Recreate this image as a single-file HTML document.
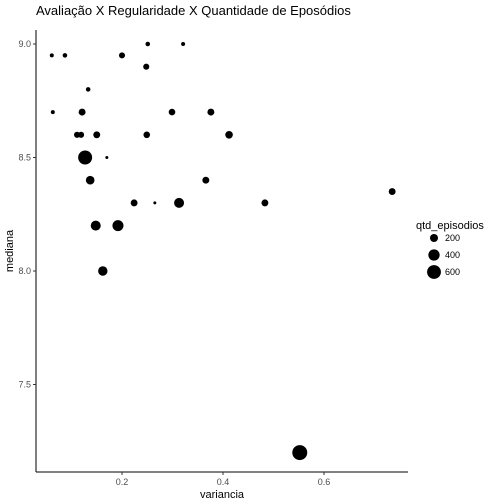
<!DOCTYPE html>
<html><head><meta charset="utf-8"><style>
body{margin:0;background:#fff}
svg{display:block;font-family:"Liberation Sans",sans-serif}
</style></head><body>
<svg id="c" width="504" height="504">
<text x="36" y="15" font-size="13" fill="#000">Avaliação X Regularidade X Quantidade de Eposódios</text>
<g id="pts"></g>
<line x1="36" y1="30" x2="36" y2="472" stroke="#000" stroke-width="1"/>
<line x1="36" y1="472" x2="408" y2="472" stroke="#000" stroke-width="1"/>
<g id="ax"></g>
<text x="222" y="498" font-size="11" text-anchor="middle">variancia</text>
<text transform="translate(13,251) rotate(-90)" font-size="11" text-anchor="middle">mediana</text>
<g>
<text x="416" y="229" font-size="11">qtd_episodios</text>
<g id="leg"></g>
</g>
</svg>
<script>
const variancia=[0.061,0.087,0.2,0.251,0.321,0.248,0.133,0.063,0.121,0.299,0.376,0.111,0.119,0.150,0.249,0.412,0.127,0.170,0.137,0.366,0.224,0.265,0.313,0.483,0.735,0.148,0.192,0.162,0.552];
const mediana=[8.95,8.95,8.95,9.0,9.0,8.9,8.8,8.7,8.7,8.7,8.7,8.6,8.6,8.6,8.6,8.6,8.5,8.5,8.4,8.4,8.3,8.3,8.3,8.3,8.35,8.2,8.2,8.0,7.2];
const episodios=[50,65,115,65,50,115,65,50,150,135,150,115,115,150,135,180,610,28,230,150,150,28,310,150,150,310,380,275,700];
const xTicks=[0.2,0.4,0.6];
const yTicks=[7.5,8.0,8.5,9.0];
const legendVals=[200,400,600];
const NS="http://www.w3.org/2000/svg";
const xs=v=>21+505*v;
const ys=v=>44+(9-v)*227;
const rs=n=>0.283*Math.sqrt(n);
const pts=document.getElementById('pts'),ax=document.getElementById('ax'),leg=document.getElementById('leg');
for(let i=0;i<variancia.length;i++){
 const c=document.createElementNS(NS,'circle');
 c.setAttribute('cx',xs(variancia[i]));c.setAttribute('cy',ys(mediana[i]));c.setAttribute('r',rs(episodios[i]));
 c.setAttribute('fill','#000');
 
 
 pts.appendChild(c);
}
xTicks.forEach(t=>{
 const l=document.createElementNS(NS,'line');
 l.setAttribute('x1',xs(t));l.setAttribute('x2',xs(t));l.setAttribute('y1',472);l.setAttribute('y2',475);l.setAttribute('stroke','#333');
 
 
 ax.appendChild(l);
 const tx=document.createElementNS(NS,'text');
 tx.setAttribute('x',xs(t));tx.setAttribute('y',485);tx.setAttribute('font-size','9');tx.setAttribute('fill','#4d4d4d');tx.setAttribute('text-anchor','middle');
 tx.textContent=t.toFixed(1);
 
 
 ax.appendChild(tx);
});
yTicks.forEach(t=>{
 const l=document.createElementNS(NS,'line');
 l.setAttribute('x1',33);l.setAttribute('x2',36);l.setAttribute('y1',ys(t));l.setAttribute('y2',ys(t));l.setAttribute('stroke','#333');
 
 
 ax.appendChild(l);
 const tx=document.createElementNS(NS,'text');
 tx.setAttribute('x',31);tx.setAttribute('y',ys(t)+3);tx.setAttribute('font-size','9');tx.setAttribute('fill','#4d4d4d');tx.setAttribute('text-anchor','end');
 tx.textContent=t.toFixed(1);
 
 
 ax.appendChild(tx);
});
legendVals.forEach((v,i)=>{
 const y=238+i*17;
 const c=document.createElementNS(NS,'circle');
 c.setAttribute('cx',434);c.setAttribute('cy',y);c.setAttribute('r',rs(v));c.setAttribute('fill','#000');
 
 
 leg.appendChild(c);
 const tx=document.createElementNS(NS,'text');
 tx.setAttribute('x',445);tx.setAttribute('y',y+3);tx.setAttribute('font-size','9');tx.setAttribute('fill','#000');
 tx.textContent=v;
 
 
 leg.appendChild(tx);
});
</script>
</body></html>
